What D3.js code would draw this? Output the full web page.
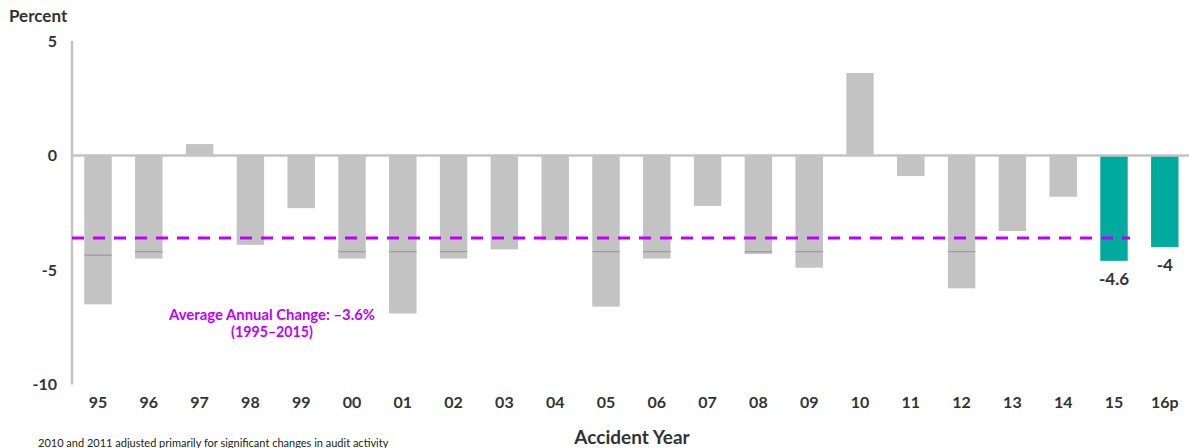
<!DOCTYPE html>
<html>
<head>
<meta charset="utf-8">
<script src="https://cdn.jsdelivr.net/npm/d3@7"></script>
<style>
  html, body { margin: 0; padding: 0; background: #fff; }
  svg { display: block; font-family: Lato, "Open Sans", "DejaVu Sans", sans-serif; }
</style>
</head>
<body>
<svg id="chart" width="1189" height="448"></svg>
<script>
// Accident years and annual percent change
const years = ["95","96","97","98","99","00","01","02","03","04","05","06","07","08","09","10","11","12","13","14","15","16p"];
const changes = [-6.5,-4.5,0.5,-3.9,-2.3,-4.5,-6.9,-4.5,-4.1,-3.7,-6.6,-4.5,-2.2,-4.3,-4.9,3.6,-0.9,-5.8,-3.3,-1.8,-4.6,-4.0];
// thin reference marks drawn inside some bars (null = none)
const innerMarks = [-4.35,-4.2,null,null,null,-4.2,-4.2,-4.2,null,null,-4.2,-4.2,null,-4.2,-4.2,null,null,-4.2,null,null,null,null];
// years highlighted in teal and labelled with their value
const highlighted = ["15","16p"];
const yTicks = [5, 0, -5, -10];
const averageChange = -3.6;
const averageLabel = ["Average Annual Change: \u20133.6%", "(1995\u20132015)"];

const svg = d3.select("#chart");
const grey = "#c3c3c3";
const teal = "#00aa9e";
const purple = "#c000ff";
const ink = "#333333";
const plain = d => String(d);   // hyphen-minus, as printed

const x = d3.scaleBand()
  .domain(years)
  .range([72.6, 1190.2])
  .paddingInner(0.46)
  .paddingOuter(0.23);

const y = d3.scaleLinear().domain([-10, 5]).range([384.5, 41]);

// y axis line
svg.append("line")
  .attr("x1", 72).attr("x2", 72)
  .attr("y1", y(5)).attr("y2", y(-10))
  .attr("stroke", grey).attr("stroke-width", 2.5);

// y tick labels
const yAxis = d3.axisLeft(y).tickValues(yTicks).tickSize(0).tickPadding(0).tickFormat(plain);
const gy = svg.append("g").attr("transform", "translate(57,0)").call(yAxis);
gy.select(".domain").remove();
gy.selectAll("text")
  .attr("fill", ink).attr("font-size", 16).attr("font-weight", "bold")
  .attr("font-family", "Lato, 'Open Sans', sans-serif");

svg.append("text")
  .attr("x", 9).attr("y", 22)
  .attr("fill", ink).attr("font-size", 17).attr("font-weight", "bold")
  .text("Percent");

// bars
const data = years.map((yr, i) => ({ yr, v: changes[i], m: innerMarks[i] }));
svg.append("g").selectAll("rect").data(data).join("rect")
  .attr("x", d => x(d.yr))
  .attr("width", x.bandwidth())
  .attr("y", d => y(Math.max(0, d.v)))
  .attr("height", d => Math.abs(y(d.v) - y(0)))
  .attr("fill", d => highlighted.includes(d.yr) ? teal : grey);

// inner reference marks
svg.append("g").selectAll("line").data(data.filter(d => d.m !== null)).join("line")
  .attr("x1", d => x(d.yr)).attr("x2", d => x(d.yr) + x.bandwidth())
  .attr("y1", d => y(d.m)).attr("y2", d => y(d.m))
  .attr("stroke", "#9a9a9a").attr("stroke-width", 1.2);

// zero line
svg.append("line")
  .attr("x1", 72).attr("x2", 1189)
  .attr("y1", y(0)).attr("y2", y(0))
  .attr("stroke", grey).attr("stroke-width", 2.5);

// average line
svg.append("line")
  .attr("x1", 72).attr("x2", 1130)
  .attr("y1", y(averageChange)).attr("y2", y(averageChange))
  .attr("stroke", purple).attr("stroke-width", 3)
  .attr("stroke-dasharray", "12,9");

svg.append("g").selectAll("text").data(averageLabel).join("text")
  .attr("x", 272)
  .attr("y", (d, i) => 320 + i * 17)
  .attr("text-anchor", "middle")
  .attr("fill", purple).attr("font-size", 14.5).attr("font-weight", "bold")
  .attr("textLength", (d, i) => i === 0 ? 206 : 82)
  .attr("lengthAdjust", "spacingAndGlyphs")
  .text(d => d);

// value labels on highlighted bars
svg.append("g").selectAll("text").data(data.filter(d => highlighted.includes(d.yr))).join("text")
  .attr("x", d => x(d.yr) + x.bandwidth() / 2)
  .attr("y", d => y(d.v) + 24)
  .attr("text-anchor", "middle")
  .attr("fill", ink).attr("font-size", 17).attr("font-weight", "bold")
  .text(d => plain(d.v));

// x axis labels
const xAxis = d3.axisBottom(x).tickSize(0).tickPadding(0);
const gx = svg.append("g").attr("transform", "translate(0,397)").call(xAxis);
gx.select(".domain").remove();
gx.selectAll("text")
  .attr("fill", ink).attr("font-size", 16).attr("font-weight", "bold")
  .attr("font-family", "Lato, 'Open Sans', sans-serif");

svg.append("text")
  .attr("x", 632).attr("y", 444)
  .attr("text-anchor", "middle")
  .attr("fill", ink).attr("font-size", 19).attr("font-weight", "bold")
  .text("Accident Year");

svg.append("text")
  .attr("x", 38).attr("y", 447)
  .attr("fill", "#222").attr("font-size", 11)
  .text("2010 and 2011 adjusted primarily for significant changes in audit activity");
</script>
</body>
</html>
